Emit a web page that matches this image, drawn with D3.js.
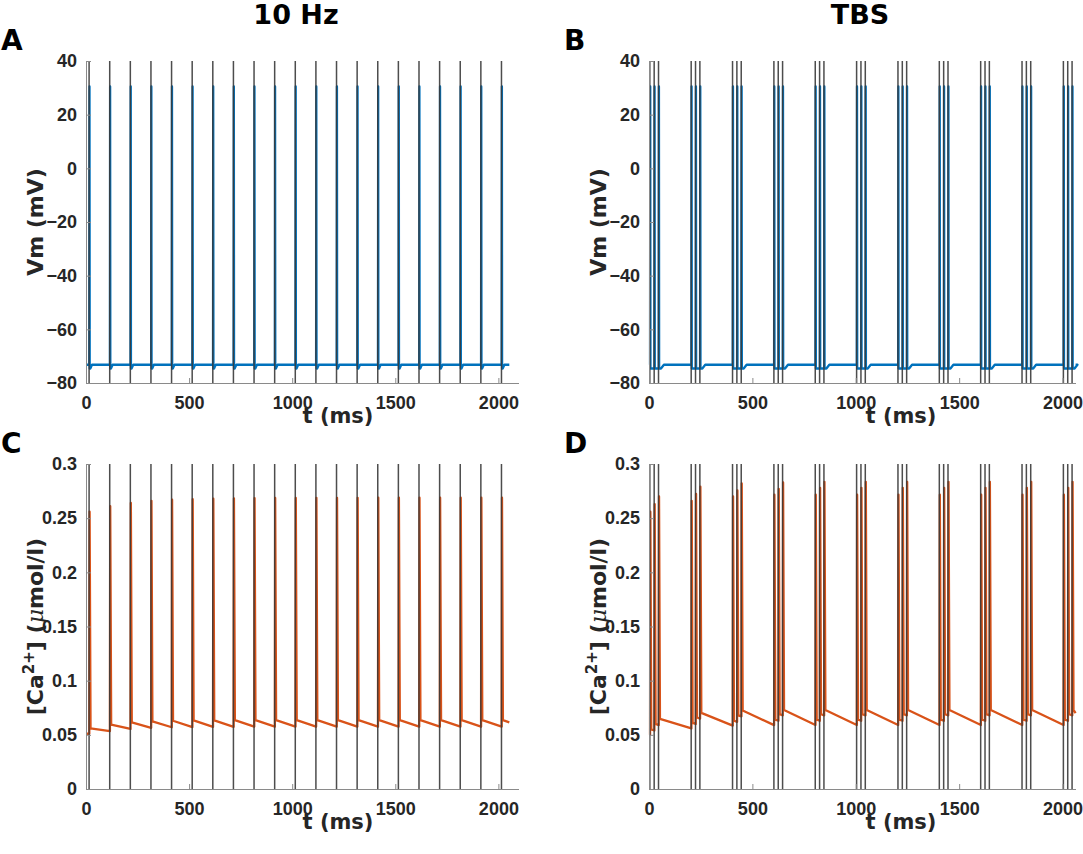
<!DOCTYPE html>
<html>
<head>
<meta charset="utf-8">
<script src="https://cdn.jsdelivr.net/npm/d3@7"></script>
<style>
  html, body { margin: 0; padding: 0; background: #fff; }
  svg { display: block; }
</style>
</head>
<body>
<svg id="chart" width="1083" height="854"></svg>
<script>
// ---------------- DATA ----------------
const xTicks = [0, 500, 1000, 1500, 2000];
const vmTicks = [-80, -60, -40, -20, 0, 20, 40];
const caTicks = [0, 0.05, 0.1, 0.15, 0.2, 0.25, 0.3];
const caTickLabels = ["0", "0.05", "0.1", "0.15", "0.2", "0.25", "0.3"];

// stimulus times (ms)
const stim10Hz = [15, 115, 215, 315, 415, 515, 615, 715, 815, 915, 1015,
                  1115, 1215, 1315, 1415, 1515, 1615, 1715, 1815, 1915, 2015];
const tbsBurstStarts = [4, 204, 404, 604, 804, 1004, 1204, 1404, 1604, 1804, 2004];
const tbsPulseOffsets = [0, 21, 42];

// membrane potential levels (mV): rest, spike peak, after-spike dip
const vmRest = [-73.2];
const vmPeak = [30.5];
const vmDip = [-74.6];
const endTime10Hz = [2053];
const endTimeTBS = [2063];

// [Ca2+] (umol/l) for 10 Hz: value just before each pulse, peak, value after fast decay
const caBefore10 = [0.051, 0.0535, 0.0555, 0.0565, 0.057, 0.0572, 0.0573, 0.0574, 0.0575, 0.0575, 0.0575,
                    0.0575, 0.0575, 0.0575, 0.0575, 0.0575, 0.0575, 0.0575, 0.0575, 0.0575, 0.0575];
const caPeak10 = [0.256, 0.261, 0.264, 0.266, 0.267, 0.2675, 0.268, 0.2683, 0.2685, 0.2686, 0.2687,
                  0.2688, 0.2688, 0.2688, 0.2689, 0.2689, 0.2689, 0.2689, 0.2689, 0.2689, 0.2689];
const caAfter10 = [0.056, 0.0595, 0.0615, 0.0625, 0.063, 0.0633, 0.0634, 0.0635, 0.0635, 0.0635, 0.0635,
                   0.0635, 0.0635, 0.0635, 0.0635, 0.0635, 0.0635, 0.0635, 0.0635, 0.0635, 0.0635];
const caEnd10 = [0.0615];

// [Ca2+] for TBS, per pulse (3 per burst, 11 bursts)
const caBeforeTBS = [
  0.050, 0.054, 0.059,
  0.056, 0.060, 0.065,
  0.0585, 0.062, 0.067,
  0.059, 0.063, 0.068,
  0.059, 0.063, 0.068,
  0.059, 0.063, 0.068,
  0.059, 0.063, 0.068,
  0.059, 0.063, 0.068,
  0.059, 0.063, 0.068,
  0.059, 0.063, 0.068,
  0.059, 0.063, 0.068];
const caPeakTBS = [
  0.256, 0.263, 0.270,
  0.266, 0.2725, 0.279,
  0.270, 0.2756, 0.282,
  0.2716, 0.277, 0.283,
  0.2716, 0.278, 0.2835,
  0.2716, 0.278, 0.2835,
  0.2716, 0.278, 0.2835,
  0.2716, 0.278, 0.2835,
  0.2716, 0.278, 0.2835,
  0.2716, 0.278, 0.2835,
  0.2716, 0.278, 0.2835];
const caAfterTBS = [
  0.055, 0.060, 0.0647,
  0.061, 0.066, 0.0703,
  0.063, 0.068, 0.0724,
  0.064, 0.069, 0.073,
  0.064, 0.069, 0.073,
  0.064, 0.069, 0.073,
  0.064, 0.069, 0.073,
  0.064, 0.069, 0.073,
  0.064, 0.069, 0.073,
  0.064, 0.069, 0.073,
  0.064, 0.069, 0.073];
const caEndTBS = [0.070];

// ---------------- STYLE / LAYOUT ----------------
const colVm = "#0072BD", colCa = "#D95319", colStim = "#3a3a3a", colAxis = "#8a8a8a", colText = "#262626";
const tickFont = "'Liberation Sans', Arial, sans-serif";
const labelFont = "'DejaVu Sans', Verdana, sans-serif";

const panels = [
  {id: "A", left: 86, right: 519, top: 61, bottom: 383, kind: "vm", proto: "10"},
  {id: "B", left: 649, right: 1076, top: 61, bottom: 383, kind: "vm", proto: "tbs"},
  {id: "C", left: 86, right: 519, top: 464, bottom: 789, kind: "ca", proto: "10"},
  {id: "D", left: 649, right: 1076, top: 464, bottom: 789, kind: "ca", proto: "tbs"}
];
const xMax = {"10": 2100, "tbs": 2065};

const svg = d3.select("#chart");

// pulse times
const tbsPulses = [];
tbsBurstStarts.forEach(b => tbsPulseOffsets.forEach(o => tbsPulses.push(b + o)));

function vmTrace(pulses, endT) {
  const pts = [[0, vmRest[0]]];
  for (let i = 0; i < pulses.length; i++) {
    const t = pulses[i];
    const prevLevel = (i > 0 && t - pulses[i - 1] < 30) ? vmDip[0] : vmRest[0];
    pts.push([t + 1, prevLevel]);
    pts.push([t + 2, vmPeak[0]]);
    pts.push([t + 3, vmDip[0]]);
    const next = pulses[i + 1];
    if (next === undefined || next - t >= 30) {
      const isBurst = (i > 0 && t - pulses[i - 1] < 30);
      if (isBurst) { pts.push([t + 12, vmDip[0]]); pts.push([t + 26, vmRest[0]]); }
      else { pts.push([t + 6, vmDip[0]]); pts.push([t + 14, vmRest[0]]); }
    }
  }
  pts.push([endT, vmRest[0]]);
  return pts;
}

function caTrace(pulses, before, peak, after, endVal, endT) {
  const pts = [[0, before[0]]];
  for (let i = 0; i < pulses.length; i++) {
    const t = pulses[i];
    pts.push([t + 1, before[i]]);
    pts.push([t + 2.5, peak[i]]);
    pts.push([t + 7, after[i]]);
  }
  pts.push([endT, endVal]);
  return pts;
}

panels.forEach(p => {
  const g = svg.append("g");
  const x = d3.scaleLinear().domain([0, xMax[p.proto]]).range([p.left, p.right]);
  const y = p.kind === "vm"
    ? d3.scaleLinear().domain([-80, 40]).range([p.bottom, p.top])
    : d3.scaleLinear().domain([0, 0.3]).range([p.bottom, p.top]);
  const pulses = p.proto === "10" ? stim10Hz : tbsPulses;
  const endT = p.proto === "10" ? endTime10Hz[0] : endTimeTBS[0];

  let data;
  if (p.kind === "vm") data = vmTrace(pulses, endT);
  else if (p.proto === "10") data = caTrace(pulses, caBefore10, caPeak10, caAfter10, caEnd10[0], endT);
  else data = caTrace(pulses, caBeforeTBS, caPeakTBS, caAfterTBS, caEndTBS[0], endT);

  const line = d3.line().x(d => x(d[0])).y(d => y(d[1]));
  g.append("path").datum(data)
    .attr("d", line)
    .attr("fill", "none")
    .attr("stroke", p.kind === "vm" ? colVm : colCa)
    .attr("stroke-width", 2.3)
    .attr("stroke-linejoin", "round");

  // stimulus lines
  const yd = y.domain();
  g.selectAll("line.stim").data(pulses).enter().append("line")
    .attr("class", "stim")
    .attr("x1", d => x(d)).attr("x2", d => x(d))
    .attr("y1", y(yd[0])).attr("y2", y(yd[1]))
    .attr("stroke", colStim).attr("stroke-width", 1.5)
    .attr("opacity", 0.9);

  // axes
  const xAxis = d3.axisBottom(x).tickValues(xTicks).tickFormat(d3.format("d"))
    .tickSizeInner(-5).tickSizeOuter(0).tickPadding(13);
  const gx = g.append("g").attr("transform", `translate(0,${p.bottom})`).call(xAxis);
  const yTicks = p.kind === "vm" ? vmTicks : caTicks;
  const yAxis = d3.axisLeft(y).tickValues(yTicks).tickSizeInner(-5).tickSizeOuter(0).tickPadding(9);
  if (p.kind === "ca") yAxis.tickFormat((d, i) => caTickLabels[i]);
  const gy = g.append("g").attr("transform", `translate(${p.left},0)`).call(yAxis);
  [gx, gy].forEach(a => {
    a.select(".domain").attr("stroke", colAxis).attr("stroke-width", 1);
    a.selectAll(".tick line").attr("stroke", colAxis);
    a.selectAll(".tick text").attr("fill", colText)
      .style("font-family", tickFont).style("font-weight", "bold").style("font-size", "18px");
  });
  gx.select(".domain").attr("d", `M${p.left},0.5H${p.right}`);

  // x label
  g.append("text")
    .attr("x", p.left + 252).attr("y", p.bottom + 40)
    .attr("text-anchor", "middle")
    .attr("fill", colText)
    .style("font-family", labelFont).style("font-weight", "bold").style("font-size", "21px")
    .text("t (ms)");

  // y label
  const cy = (p.top + p.bottom) / 2;
  const lx = p.left - 43;
  const yl = g.append("text")
    .attr("transform", `translate(${lx},${cy}) rotate(-90)`)
    .attr("text-anchor", "middle")
    .attr("fill", colText)
    .style("font-family", labelFont).style("font-weight", "bold").style("font-size", "22px");
  if (p.kind === "vm") {
    yl.text("Vm (mV)");
  } else {
    yl.append("tspan").text("[Ca");
    yl.append("tspan").attr("dy", -9).style("font-size", "15px").text("2+");
    yl.append("tspan").attr("dy", 9).text("] (");
    yl.append("tspan").style("font-style", "italic").style("font-weight", "normal").style("font-family", "'DejaVu Serif', serif").text("μ");
    yl.append("tspan").text("mol/l)");
  }

  // panel letter
  g.append("text")
    .attr("x", p.left - 85).attr("y", p.top - 11)
    .attr("fill", "#000")
    .style("font-family", labelFont).style("font-weight", "bold").style("font-size", "28px")
    .text(p.id);
});

// column titles
const titles = [{text: "10 Hz", x: 296}, {text: "TBS", x: 860}];
svg.selectAll("text.title").data(titles).enter().append("text")
  .attr("class", "title")
  .attr("x", d => d.x).attr("y", 24)
  .attr("text-anchor", "middle")
  .attr("fill", "#000")
  .style("font-family", labelFont).style("font-weight", "bold").style("font-size", "27px")
  .text(d => d.text);
</script>
</body>
</html>
